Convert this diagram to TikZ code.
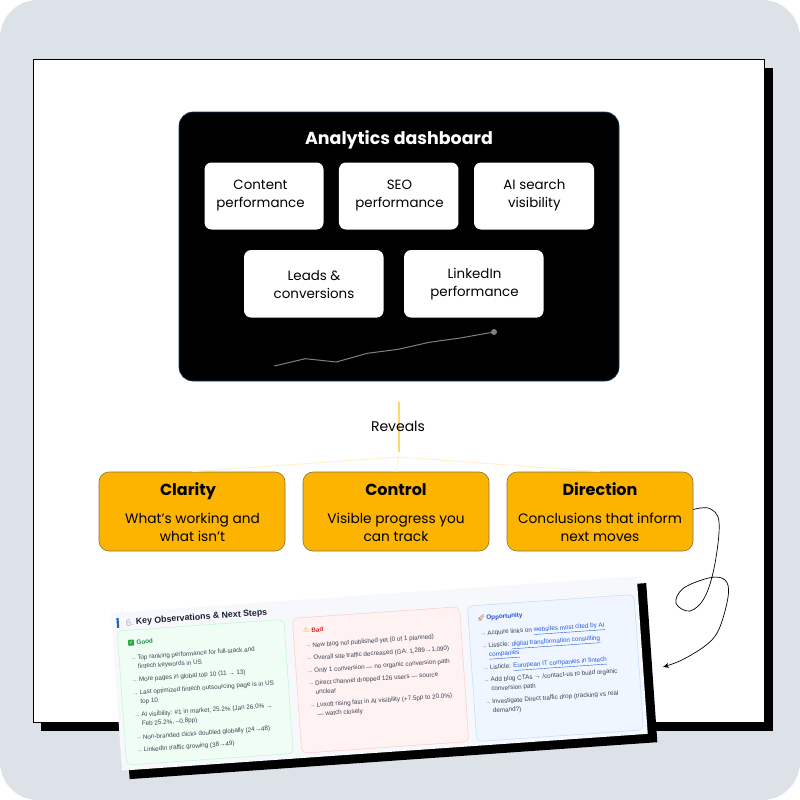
\documentclass[tikz,border=0pt]{standalone}
\usepackage{fontspec}
\setmainfont{Poppins}
\newfontfamily\sheetfont{Liberation Sans}
\newfontfamily\symfont{DejaVu Sans}
\newfontfamily\emojifont{Noto Emoji}
\definecolor{mygray}{RGB}{221,226,233}
\definecolor{myamber}{RGB}{253,180,0}
\definecolor{myedge}{RGB}{130,115,70}
\definecolor{myline}{RGB}{255,214,110}
\definecolor{myfaint}{RGB}{255,240,200}
\definecolor{mydashedge}{RGB}{30,60,90}
\definecolor{mysheet}{RGB}{246,248,252}
\definecolor{mybar}{RGB}{37,99,175}
\definecolor{mynum}{RGB}{170,177,192}
\definecolor{myhead}{RGB}{26,32,50}
\definecolor{myink}{RGB}{60,66,82}
\definecolor{mytip}{RGB}{140,148,165}
\definecolor{mylink}{RGB}{37,90,225}
\definecolor{goodfill}{RGB}{240,253,244}
\definecolor{goodedge}{RGB}{187,247,208}
\definecolor{goodicon}{RGB}{34,170,70}
\definecolor{goodhead}{RGB}{22,140,70}
\definecolor{badfill}{RGB}{254,242,242}
\definecolor{badedge}{RGB}{254,202,202}
\definecolor{badicon}{RGB}{240,170,20}
\definecolor{badhead}{RGB}{220,38,38}
\definecolor{oppfill}{RGB}{239,246,255}
\definecolor{oppedge}{RGB}{191,219,254}
\definecolor{oppicon}{RGB}{200,70,50}
\definecolor{opphead}{RGB}{37,80,225}
\usetikzlibrary{arrows.meta,positioning}

\begin{document}
\begin{tikzpicture}[x=1pt,y=-1pt,
    tilebox/.style={fill=white,rounded corners=7pt,inner sep=0pt},
    tiletext/.style={align=center,font=\fontsize{13.4}{18}\selectfont,inner sep=0pt},
    amberbox/.style={fill=myamber,draw=myedge,line width=0.6pt,rounded corners=10pt,
        minimum width=186pt,minimum height=79pt,inner sep=0pt},
    ambertitle/.style={anchor=base,font=\fontsize{16}{18}\bfseries\selectfont,inner sep=0pt},
    ambertext/.style={align=center,font=\fontsize{13.7}{18}\selectfont,inner sep=0pt},
    panel/.style={rounded corners=5pt,line width=0.5pt},
    itemline/.style={anchor=west,inner sep=0pt,text=myink,text height=4.6pt,text depth=1.4pt,
        yshift=-0.7pt,font=\sheetfont\fontsize{6.3}{7}\selectfont},
    tipmark/.style={itemline,text=mytip},
    headline/.style={anchor=west,inner sep=0pt,text height=4.6pt,text depth=1.4pt,
        yshift=-0.7pt,font=\sheetfont\fontsize{6.3}{7}\bfseries\selectfont}
    ]
    \useasboundingbox (0,0) rectangle (800,800);

    % the background and the card
    \fill[mygray,rounded corners=38pt] (0,0) rectangle (800,800);
    \fill[black] (41,68) rectangle (773,731);
    \draw[fill=white,line width=1pt] (33,60) rectangle (764,722);

    % the dashboard
    \node[fill=black,draw=mydashedge,line width=0.6pt,rounded corners=14pt,
        minimum width=440pt,minimum height=269pt,inner sep=0pt] (dash) at (399,246.5) {};
    \node[anchor=base,text=white,inner sep=0pt,font=\fontsize{17.4}{18}\bfseries\selectfont] (dashTitle) at (399,144) {Analytics dashboard};

    \node[tilebox,minimum width=119pt,minimum height=67pt] (content) at (264,196) {};
    \node[tilebox,minimum width=119.5pt,minimum height=67pt] (seo) at (398.7,196) {};
    \node[tilebox,minimum width=120pt,minimum height=67pt] (search) at (534,196) {};
    \node[tilebox,minimum width=139.5pt,minimum height=67.5pt] (leads) at (313.8,283.8) {};
    \node[tilebox,minimum width=139.5pt,minimum height=67.5pt] (linkedin) at (473.8,283.8) {};
    \node[tiletext] (contentText) at (260.5,195.3) {Content\\performance};
    \node[tiletext] (seoText) at (399.5,195.3) {SEO\\performance};
    \node[tiletext] (searchText) at (534.4,195.3) {AI search\\visibility};
    \node[tiletext] (leadsText) at (314,284.5) {Leads \&\\conversions};
    \node[tiletext] (linkedinText) at (474.5,284.5) {LinkedIn\\performance};

    % the little trend line
    \coordinate (trendEnd) at (494,332);
    \draw[gray,line width=1pt] (274.3,366) -- (305.3,358.7) -- (336.3,362) -- (367.3,353.3)
        -- (398.3,349.3) -- (429.3,342.3) -- (460.3,338) -- (trendEnd);
    \fill[gray] (trendEnd) circle (3);

    % the three outcomes
    \node[amberbox] (clarity) at (192,511.5) {};
    \node[amberbox] (control) at (396,511.5) {};
    \node[amberbox] (direction) at (600,511.5) {};
    \node[ambertitle] (clarityTitle) at (188,495) {Clarity};
    \node[ambertitle] (controlTitle) at (396,495) {Control};
    \node[ambertitle] (directionTitle) at (600,495) {Direction};
    \node[ambertext] (clarityText) at (192.5,527) {What's working and\\what isn't};
    \node[ambertext] (controlText) at (396,527) {Visible progress you\\can track};
    \node[ambertext] (directionText) at (600,527) {Conclusions that inform\\next moves};

    % the connectors
    \coordinate (revealTop) at (399,402);
    \coordinate (revealEnd) at (399,452);
    \coordinate (split) at (399,457);
    \draw[myline,line width=1.2pt] (revealTop) -- (revealEnd);
    \node[inner sep=0pt,font=\fontsize{14}{18}\selectfont] (reveals) at (398,426) {Reveals};
    \foreach \i in {clarity,control,direction}
    \draw[myfaint,line width=0.8pt] (split) -- (\i.north);

    % the tilted sheet
    \begin{scope}[shift={(111,613)},rotate=4,transform shape]
    \fill[black] (7,7.5) rectangle (536,167);
    \fill[mysheet] (0,0) rectangle (527,158);
    \fill[mybar] (5,5.4) rectangle (7.2,15.4);
    \node[anchor=west,inner sep=0pt,text=mynum,font=\sheetfont\fontsize{9.5}{10}\selectfont] (sheetNum) at (14,11) {6.};
    \node[anchor=west,inner sep=0pt,text=myhead,font=\sheetfont\fontsize{8.8}{10}\bfseries\selectfont] (sheetTitle) at (24,10.8) {Key Observations \& Next Steps};

    \draw[panel,fill=goodfill,draw=goodedge] (5,18.4) rectangle (172,152.8);
    \draw[panel,fill=badfill,draw=badedge] (180.5,18) rectangle (348,153.2);
    \draw[panel,fill=oppfill,draw=oppedge] (356,18) rectangle (523,153.8);

    % the good column
    \node[fill=goodicon,rounded corners=0.8pt,inner sep=0pt,minimum size=6pt,text=white,font=\symfont\fontsize{5}{5}\selectfont] (goodIcon) at (18,31) {✓};
    \node[headline,text=goodhead] (good) at (23.2,31) {Good};
    \foreach \v/\ar/\txt [count=\i] in {
        46/→/{Top ranking performance for full-stack and},
        55//{fintech keywords in US},
        68/→/{More pages in global top 10 (11 → 13)},
        81/→/{Last optimized fintech outsourcing page is in US},
        90//{top 10},
        103.5/→/{AI visibility: \#1 in market, 25.2\% (Jan 26.0\% →},
        112.5//{Feb 25.2\%, –0.8pp)},
        126/→/{Non-branded clicks doubled globally (24→48)},
        138.5/→/{LinkedIn traffic growing (38→49)}}
    {
    \node[tipmark] (goodTip\i) at (15.5,\v) {\ar};
    \node[itemline] (good\i) at (23,\v) {\txt};
    }

    % the bad column
    \node[inner sep=0pt,text=badicon,font=\symfont\fontsize{7}{7}\selectfont] (badIcon) at (193.4,30.6) {⚠};
    \node[headline,text=badhead] (bad) at (198.6,31) {Bad};
    \foreach \v/\ar/\txt [count=\i] in {
        46/→/{New blog not published yet (0 of 1 planned)},
        58.7/→/{Overall site traffic decreased (GA: 1,289→1,090)},
        71.4/→/{Only 1 conversion — no organic conversion path},
        84/→/{Direct channel dropped 126 users — source},
        93//{unclear},
        106/→/{Luxoft rising fast in AI visibility (+7.5pp to 20.0\%)},
        115//{— watch closely}}
    {
    \node[tipmark] (badTip\i) at (191,\v) {\ar};
    \node[itemline] (bad\i) at (198.6,\v) {\txt};
    }

    % the opportunity column
    \node[inner sep=0pt,text=oppicon,font=\emojifont\fontsize{6.5}{7}\selectfont] (oppIcon) at (369,30.5) {🚀};
    \node[headline,text=opphead] (opp) at (374,30.5) {Opportunity};
    \foreach \v/\ar/\txt [count=\i] in {
        46/→/{Acquire links on \textcolor{mylink}{\underline{websites most cited by AI}}},
        58.7/→/{Listicle: \textcolor{mylink}{\underline{digital transformation consulting}}},
        67.5//{\textcolor{mylink}{\underline{companies}}},
        80.5/→/{Listicle: \textcolor{mylink}{\underline{European IT companies in fintech}}},
        93/→/{Add blog CTAs → /contact-us to build organic},
        102//{conversion path},
        115/→/{Investigate Direct traffic drop (tracking vs real},
        124//{demand?)}}
    {
    \node[tipmark] (oppTip\i) at (366.5,\v) {\ar};
    \node[itemline] (opp\i) at (374,\v) {\txt};
    }
    \end{scope}

    % the hand drawn arrow
    \coordinate (curlEnd) at (663,667);
    \draw[-{Stealth[length=6pt,width=5pt]},line width=0.7pt] plot[smooth,tension=0.6] coordinates {
        ([yshift=2pt]direction.east) (709,508.3) (719,521.7) (715,563.3) (705,596.7) (690,611) (676,603.3)
        (683.3,588.3) (710,577.7) (725,580) (728.3,595) (720,626.7) (708.3,643.3) (683.3,659.3) (curlEnd)};
\end{tikzpicture}
\end{document}
